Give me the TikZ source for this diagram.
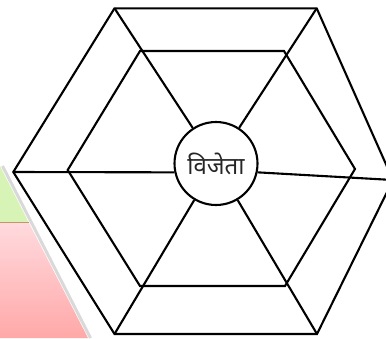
\documentclass[tikz,border=0pt]{standalone}
\usepackage{fontspec}
\newfontfamily\devfont[Script=Devanagari]{Noto Sans}
\definecolor{greenbg}{RGB}{216,243,182}
\definecolor{pinktop}{RGB}{255,218,222}
\definecolor{pinkbot}{RGB}{255,168,168}
\definecolor{brownline}{RGB}{196,150,100}
\begin{document}
\begin{tikzpicture}[x=1pt,y=-1pt,
  hexline/.style={draw=black,line width=2.1pt},
  hub/.style={circle,draw=black,line width=2.1pt,fill=white,minimum size=83pt,inner sep=0pt,
    font=\devfont\fontsize{24}{28}\selectfont,text=black!85}]
\useasboundingbox (0,0) rectangle (386,338);
\clip (0,0) rectangle (386,338);
% background shapes
\fill[greenbg] (0,166) -- (29,223) -- (0,223) -- cycle;
\shade[top color=pinktop,bottom color=pinkbot] (0,223) -- (29,223) -- (88,338) -- (0,338) -- cycle;
\draw[brownline,line width=1.5pt] (0,222.5) -- (29,222.5);
\draw[black!25,line width=3pt,opacity=0.6] (2.5,166) -- (90.5,338);
% outer hexagon
\coordinate (o1) at (114.5,8.3);
\coordinate (o2) at (316.7,8.3);
\coordinate (o3) at (393,180);
\coordinate (o4) at (317,334);
\coordinate (o5) at (114.5,334);
\coordinate (o6) at (13.3,172);
% inner hexagon
\coordinate (i1) at (140,51);
\coordinate (i2) at (284,51);
\coordinate (i3) at (355,169);
\coordinate (i4) at (285,286);
\coordinate (i5) at (140,286);
\coordinate (i6) at (67.7,170);
\draw[hexline] (o1) -- (o2) -- (o3) -- (o4) -- (o5) -- (o6) -- cycle;
\draw[hexline] (i1) -- (i2) -- (i3) -- (i4) -- (i5) -- (i6) -- cycle;
\node[hub] (c) at (216,163.5) {विजेता};
\draw[hexline] (o1) -- (c);
\draw[hexline] (o2) -- (c);
\draw[hexline] (o4) -- (c);
\draw[hexline] (o5) -- (c);
\draw[hexline] (o6) -- (c.192);
\draw[hexline] (c.-12) -- (o3);
\end{tikzpicture}
\end{document}
